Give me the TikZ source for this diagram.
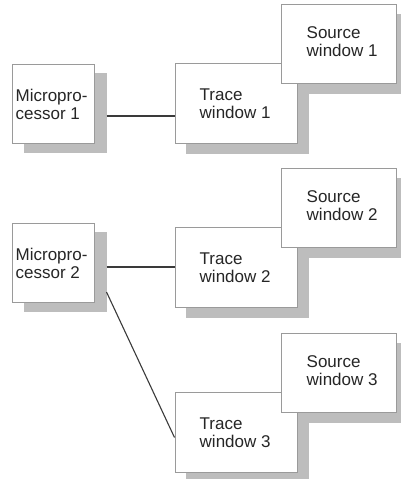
\documentclass[tikz,border=0pt]{standalone}
\usepackage{fontspec}
\setmainfont{Liberation Sans}
\usetikzlibrary{positioning,backgrounds}
\definecolor{boxline}{HTML}{9A9A9A}
\definecolor{shadowgray}{HTML}{BDBDBD}
\definecolor{wire}{HTML}{3A3A3A}
\definecolor{ink}{HTML}{262626}
\tikzstyle{cpubox}=[draw=boxline,fill=white,line width=1pt,minimum width=82pt,minimum height=79pt,inner sep=0pt]
\tikzstyle{tracebox}=[cpubox,minimum width=122pt,minimum height=80pt]
\tikzstyle{srcbox}=[cpubox,minimum width=115pt,minimum height=79pt]
\tikzstyle{wintext}=[anchor=west,align=left,inner sep=0pt,text=ink,font=\fontsize{17}{18}\selectfont]
\tikzstyle{link}=[draw=wire,line width=1.1pt]
\tikzstyle{shadowbox}=[fill=shadowgray]

\begin{document}
\begin{tikzpicture}[x=1pt,y=-1pt]
    \useasboundingbox (0,0) rectangle (401,479);
    % processors
    \node[cpubox] (mp1) at (53,104) {};
    \node[cpubox] (mp2) at (53,263) {};
    \foreach \i in {1,2}
        \node[wintext] (mp\i t) at ([xshift=4pt]mp\i.west) {Micropro-\\cessor \i};
    % trace windows, each with its source window
    \foreach \i/\y in {1/103.5,2/267.5,3/432.5}{
        \node[tracebox] (trace\i) at (236,\y) {};
        \node[wintext] (trace\i t) at ([xshift=25pt]trace\i.west) {Trace\\window \i};
        \node[srcbox,anchor=south west] (src\i) at ([shift={(-17pt,-21pt)}]trace\i.north east) {};
        \node[wintext] (src\i t) at ([shift={(26pt,2.5pt)}]src\i.west) {Source\\window \i};
    }
    \begin{pgfonlayer}{background}
        \foreach \n in {mp1,mp2}
            \fill[shadowbox] ([shift={(12pt,-9pt)}]\n.north west) rectangle ([shift={(12pt,-9pt)}]\n.south east);
        \foreach \n in {trace1,trace2,trace3,src1,src2,src3}
            \fill[shadowbox] ([shift={(11pt,-10pt)}]\n.north west) rectangle ([shift={(11pt,-10pt)}]\n.south east);
    \end{pgfonlayer}
    \draw[link] ([shift={(12pt,-12pt)}]mp1.east) -- ([yshift=-12pt]mp1.east -| trace1.west);
    \draw[link] ([shift={(12pt,-4pt)}]mp2.east) -- ([yshift=-4pt]mp2.east -| trace2.west);
    \draw[link] ([shift={(12pt,-29pt)}]mp2.east) -- ([yshift=-5pt]trace3.west);
\end{tikzpicture}
\end{document}
